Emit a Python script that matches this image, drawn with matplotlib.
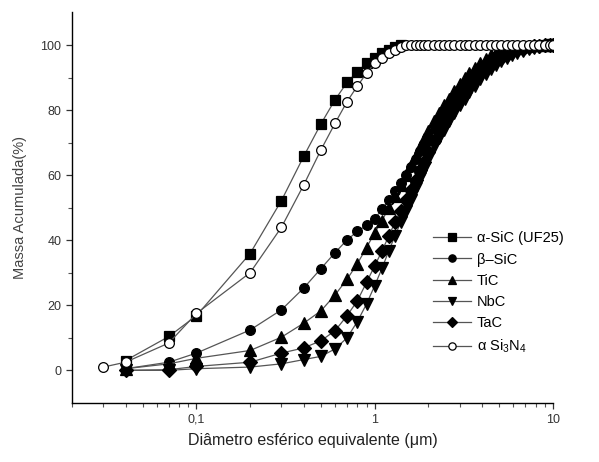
import matplotlib
matplotlib.use("Agg")
import matplotlib.pyplot as plt
from matplotlib.ticker import FixedLocator, FixedFormatter, NullFormatter

plt.rcParams['font.family'] = ['Liberation Sans', 'DejaVu Sans']
plt.rcParams['mathtext.fontset'] = 'custom'
plt.rcParams['mathtext.rm'] = 'Liberation Sans'

# %% data (diameter in um, cumulative mass in %)
# fine part of the grid, shared by the carbides and beta-SiC
d_fine = [0.04, 0.07, 0.1, 0.2, 0.3, 0.4, 0.5, 0.6, 0.7, 0.8, 0.9]
# coarse part, dense sampling from 1 um to 10 um
d_coarse = [1.0, 1.1, 1.2, 1.3, 1.4, 1.5, 1.6, 1.7, 1.8, 1.9, 2.0, 2.15, 2.3,
            2.45, 2.6, 2.8, 3.0, 3.2, 3.4, 3.65, 3.9, 4.2, 4.5, 4.8, 5.1, 5.5,
            5.9, 6.3, 6.8, 7.3, 7.8, 8.4, 9.0, 9.6, 10.0]

d_sic_a = [0.04, 0.07, 0.1, 0.2, 0.3, 0.4, 0.5, 0.6, 0.7, 0.8, 0.9, 1.0,
           1.1, 1.2, 1.3, 1.4]
m_sic_a = [3.0, 10.4, 16.8, 35.9, 52.2, 65.8, 75.8, 83.2, 88.5, 91.8, 94.4,
           95.9, 97.5, 98.5, 99.3, 100.0]

d_si3n4 = [0.03, 0.04, 0.07, 0.1, 0.2, 0.3, 0.4, 0.5, 0.6, 0.7, 0.8, 0.9,
           1.0, 1.1, 1.2, 1.3, 1.4, 1.5, 1.6, 1.7, 1.8, 1.9, 2.0, 2.15, 2.3,
           2.45, 2.6, 2.8, 3.0, 3.2, 3.4, 3.65, 3.9, 4.2, 4.5, 4.8, 5.1, 5.5,
           5.9, 6.3, 6.8, 7.3, 7.8, 8.4, 9.0, 9.6, 10.0]
m_si3n4 = [1.0, 2.5, 8.4, 17.5, 30.0, 44.0, 57.0, 67.8, 76.0, 82.6, 87.4,
           91.3, 94.4, 95.9, 97.4, 98.6, 99.5, 100, 100, 100, 100, 100, 100,
           100, 100, 100, 100, 100, 100, 100, 100, 100, 100, 100, 100, 100,
           100, 100, 100, 100, 100, 100, 100, 100, 100, 100, 100]

m_sic_b = [0.5, 2.5, 5.3, 12.4, 18.6, 25.3, 31.3, 36.2, 40.1, 42.7, 44.6,
           46.6, 49.5, 52.5, 55.0, 57.5, 60.0, 62.5, 65.0, 67.5, 69.5, 71.5,
           74.5, 77.0, 79.5, 81.5, 84.0, 86.0, 88.0, 89.5, 91.3, 92.8, 94.3,
           95.5, 96.5, 97.3, 98.0, 98.6, 99.0, 99.4, 99.6, 99.8, 99.9, 100,
           100, 100]
m_tic = [0.5, 2.0, 3.7, 6.1, 10.2, 14.5, 18.3, 23.2, 28.0, 32.8, 37.7,
         42.3, 46.0, 50.0, 53.5, 57.0, 60.0, 63.0, 66.0, 68.5, 71.0, 73.5,
         76.5, 79.0, 81.5, 83.5, 86.0, 88.0, 90.0, 91.5, 93.0, 94.5, 95.8,
         96.8, 97.6, 98.2, 98.8, 99.2, 99.5, 99.7, 99.8, 99.9, 100, 100,
         100, 100]
m_nbc = [0.0, 0.0, 0.5, 1.0, 2.0, 3.3, 4.3, 6.6, 10.0, 15.0, 20.4,
         26.0, 31.4, 36.7, 41.3, 45.5, 49.0, 52.5, 56.0, 59.0, 62.0, 65.0,
         68.5, 71.5, 74.0, 76.5, 79.0, 81.5, 83.5, 85.5, 87.5, 89.5, 91.2,
         92.7, 94.0, 95.0, 96.0, 96.9, 97.6, 98.2, 98.7, 99.1, 99.4, 99.7,
         99.9, 100]
m_tac = [0.0, 0.2, 1.2, 2.5, 5.3, 6.9, 9.1, 12.2, 16.8, 21.4, 27.0,
         32.1, 36.7, 41.3, 45.5, 49.0, 52.5, 55.5, 58.5, 61.5, 64.0, 67.0,
         70.5, 73.5, 76.0, 78.5, 81.0, 83.5, 85.5, 87.5, 89.5, 91.0, 92.7,
         94.0, 95.2, 96.1, 97.0, 97.8, 98.4, 98.9, 99.3, 99.6, 99.8, 99.9,
         100, 100]

labels = ['α-SiC (UF25)', 'β–SiC', 'TiC', 'NbC', 'TaC', 'α Si$_3$N$_4$']
x_ticks = [0.1, 1, 10]
x_ticklabels = ['0,1', '1', '10']
y_ticks = [0, 20, 40, 60, 80, 100]

# %% plot
d_all = d_fine + d_coarse
series = [
    (d_sic_a, m_sic_a, 's', 'k'),
    (d_all, m_sic_b, 'o', 'k'),
    (d_all, m_tic, '^', 'k'),
    (d_all, m_nbc, 'v', 'k'),
    (d_all, m_tac, 'D', 'k'),
    (d_si3n4, m_si3n4, 'o', 'white'),
]
sizes = {'s': 6.8, 'o': 7, '^': 8.5, 'v': 8.5, 'D': 6.8}

fig = plt.figure(figsize=(5.99, 4.62), dpi=100)
ax = fig.add_axes([0.120, 0.128, 0.803, 0.845])

for (x, y, mk, fc), lab in zip(series, labels):
    ax.plot(x, y, color='#555555', lw=0.9, marker=mk, ms=sizes[mk],
            mfc=fc, mec='black', mew=0.9, label=lab)

ax.set_xscale('log')
ax.set_xlim(0.02, 10)
ax.set_ylim(-10, 110)

ax.xaxis.set_major_locator(FixedLocator(x_ticks))
ax.xaxis.set_major_formatter(FixedFormatter(x_ticklabels))
ax.xaxis.set_minor_formatter(NullFormatter())
ax.set_yticks(y_ticks)
ax.set_yticks([10, 30, 50, 70, 90], minor=True)

for s in ['top', 'right']:
    ax.spines[s].set_visible(False)
ax.spines['left'].set_linewidth(1.0)
ax.spines['bottom'].set_linewidth(1.0)

ax.tick_params(axis='both', which='major', direction='out', length=4,
               width=0.9, labelsize=9, colors='#333333')
ax.tick_params(axis='both', which='minor', direction='out', length=3,
               width=0.8, colors='#555555')
ax.tick_params(axis='x', which='major', pad=4)

ax.set_xlabel('Diâmetro esférico equivalente (μm)', fontsize=11.5,
              color='#222222', labelpad=5)
ax.set_ylabel('Massa Acumulada(%)', fontsize=10.5, color='#444444',
              labelpad=10)

ax.legend(loc='upper left', bbox_to_anchor=(0.745, 0.447), frameon=False,
          fontsize=10.5, handlelength=2.6, handletextpad=0.4,
          labelspacing=0.5, borderaxespad=0, borderpad=0.2, markerscale=0.75)

fig.savefig('out.png', dpi=100)
